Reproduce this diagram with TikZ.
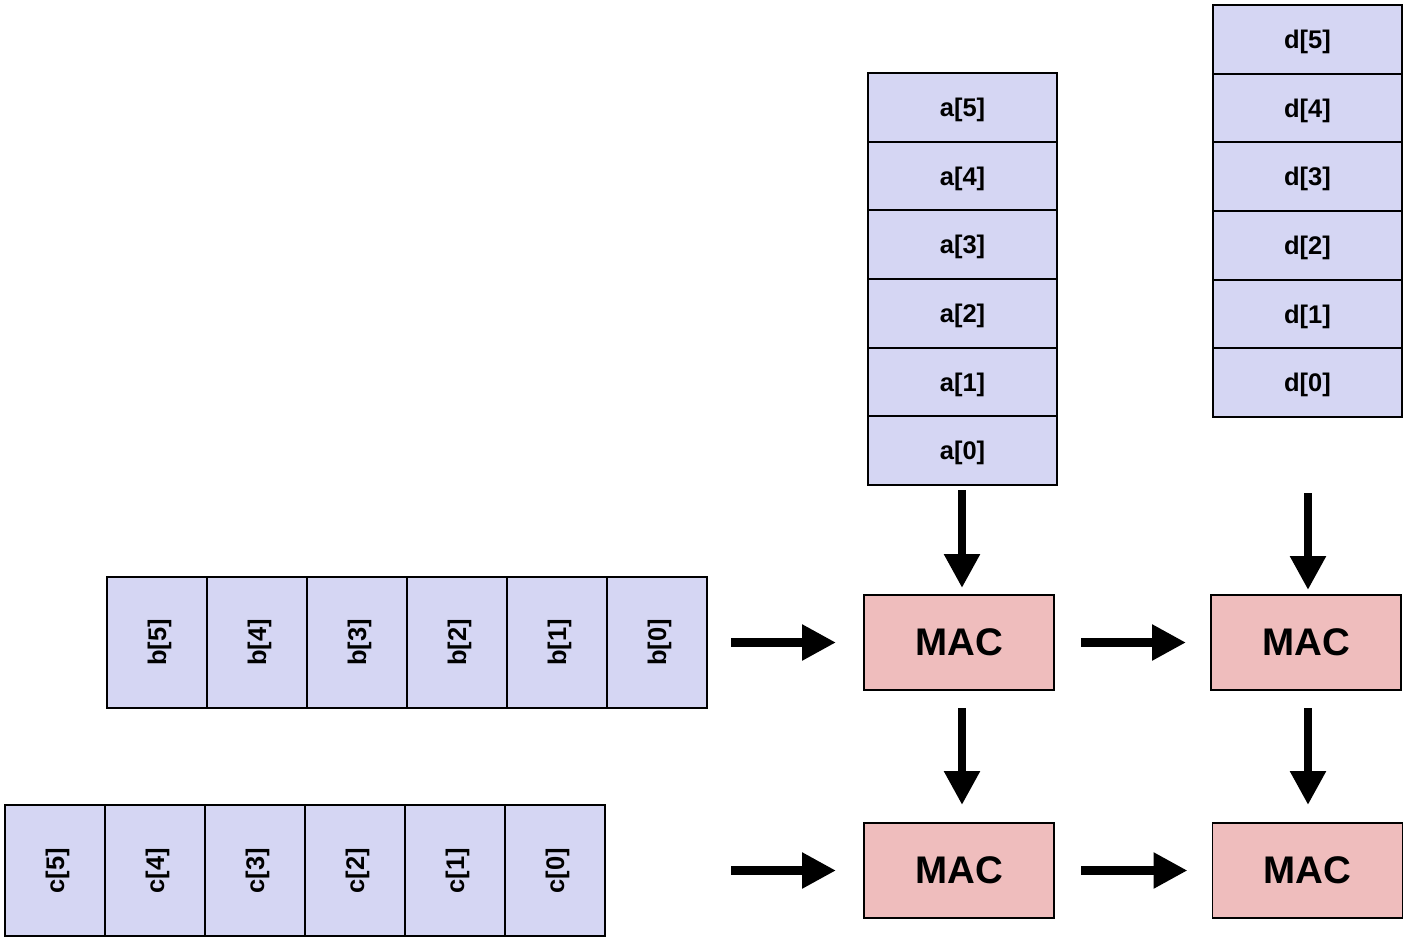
\documentclass[tikz,border=0pt]{standalone}
\usepackage{fontspec}
\setmainfont{Liberation Sans}
\usetikzlibrary{arrows.meta}
\definecolor{cellblue}{HTML}{D5D6F3}
\definecolor{macred}{HTML}{EFBDBD}
\newcommand{\celltxt}[1]{\raisebox{0pt}[21pt][2.8pt]{#1}}
\begin{document}
\begin{tikzpicture}[x=1pt,y=-1pt,
  cellv/.style={draw=black,line width=1.8pt,fill=cellblue,minimum width=189pt,minimum height=68.7pt,inner sep=0pt,outer sep=0pt,font=\fontsize{25.5}{25.5}\selectfont\bfseries},
  cellh/.style={draw=black,line width=1.8pt,fill=cellblue,minimum width=100pt,minimum height=131pt,inner sep=0pt,outer sep=0pt,font=\fontsize{25.5}{25.5}\selectfont\bfseries},
  mac/.style={draw=black,line width=1.8pt,fill=macred,minimum width=190pt,minimum height=95pt,inner sep=0pt,outer sep=0pt,font=\fontsize{38.5}{38.5}\selectfont\bfseries},
  flow/.style={line width=8.5pt,-{Triangle[length=34pt,width=34pt]}}
]
\useasboundingbox (0,0) rectangle (1403,937);
% a column
\foreach \i/\y in {5/107.3,4/176,3/244.7,2/313.3,1/382,0/450.7}
  \node[cellv] (a\i) at (962.5,\y) {\celltxt{a[\i]}};
% d column
\foreach \i/\y in {5/39.3,4/108,3/176.7,2/245.3,1/314,0/382.7}
  \node[cellv] (d\i) at (1307.5,\y) {\celltxt{d[\i]}};
% b row
\foreach \i/\x in {5/157,4/257,3/357,2/457,1/557,0/657}
  \node[cellh] (b\i) at (\x,642.5) {\rotatebox{90}{\celltxt{b[\i]}}};
% c row
\foreach \i/\x in {5/55,4/155,3/255,2/355,1/455,0/555}
  \node[cellh] (c\i) at (\x,870.5) {\rotatebox{90}{\celltxt{c[\i]}}};
% MACs
\node[mac] (m1) at (959,642.5) {MAC};
\node[mac] (m2) at (1306,642.5) {MAC};
\node[mac] (m3) at (959,870.5) {MAC};
\node[mac] (m4) at (1307.5,870.5) {MAC};
% free ends
\coordinate (dstart) at (1308,493);
\coordinate (cstart) at (731,870.5);
\coordinate (a0s) at (962,485);
% arrows
\draw[flow,shorten <=5pt,shorten >=7pt] (a0s) -- (a0s |- m1.north);
\draw[flow,shorten >=5pt] (dstart) -- (dstart |- m2.north);
\draw[flow,shorten <=24pt,shorten >=28pt] (b0.east) -- (m1.west);
\draw[flow,shorten >=28pt] (cstart) -- (m3.west);
\draw[flow,shorten <=27pt,shorten >=25pt] (m1.east) -- (m2.west);
\draw[flow,shorten <=27pt,shorten >=25pt] (m3.east) -- (m4.west);
\draw[flow,shorten <=18pt,shorten >=18pt] ([xshift=3pt]m1.south) -- ([xshift=3pt]m3.north);
\draw[flow,shorten <=18pt,shorten >=18pt] ([xshift=2pt]m2.south) -- ([xshift=0.5pt]m4.north);
\end{tikzpicture}
\end{document}
